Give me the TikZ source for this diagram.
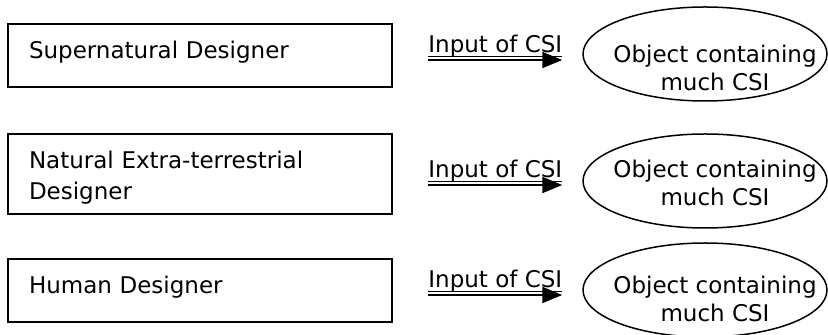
\documentclass[tikz,border=0pt]{standalone}
\usepackage{fontspec}
\setmainfont{DejaVu Sans}
\usetikzlibrary{shapes.geometric,arrows.meta}

\newcommand{\csiline}[1]{\setbox0=\hbox{#1}\rlap{\rule[-2.2pt]{\wd0}{0.5pt}}\box0}

\begin{document}
\begin{tikzpicture}[x=0.5pt, y=-0.5pt,
	every node/.style={font=\fontsize{11.5}{15.5}\selectfont},
	designer/.style={draw, line width=1pt, rectangle, anchor=north west, inner xsep=10.5pt, inner ysep=0pt, text width=171pt, align=left, text height=17.5pt, text depth=14pt},
	object/.style={draw, line width=0.75pt, ellipse, minimum width=122pt, minimum height=47pt, inner sep=0pt},
	objtext/.style={align=center, inner sep=0pt, font=\fontsize{11.5}{14}\selectfont},
	input/.style={anchor=base west, inner sep=0pt},
	feed/.style={line width=1pt, -{Triangle[length=10pt,width=8pt]}, shorten >=10pt}]
	\useasboundingbox (0,0) rectangle (828,335);
	%%
	\node[designer] (super) at (7,23) {Supernatural Designer};
	\node[designer, text depth=22.5pt] (alien) at (7,133) {Natural Extra-terrestrial\\Designer};
	\node[designer] (human) at (7,258) {Human Designer};
	%%
	\node[object] (obj1) at (705,54) {};
	\node[object] (obj2) at (705,181) {};
	\node[object] (obj3) at (705,290) {};
	\node[objtext] (objtxt1) at ([shift={(10,14)}]obj1.center) {Object containing\\much CSI};
	\node[objtext] (objtxt2) at ([shift={(10,2)}]obj2.center) {Object containing\\much CSI};
	\node[objtext] (objtxt3) at ([shift={(10,9)}]obj3.center) {Object containing\\much CSI};
	%%
	\coordinate (in1) at (428,60);
	\coordinate (in2) at (428,185);
	\coordinate (in3) at (428,295);
	\draw[feed] (in1) -- (in1 -| obj1.west);
	\draw[feed] (in2) -- (in2 -| obj2.west);
	\draw[feed] (in3) -- (in3 -| obj3.west);
	\node[input] (lbl1) at (428,53) {\csiline{Input of CSI}};
	\node[input] (lbl2) at (428,178) {\csiline{Input of CSI}};
	\node[input] (lbl3) at (428,288) {\csiline{Input of CSI}};
\end{tikzpicture}
\end{document}
